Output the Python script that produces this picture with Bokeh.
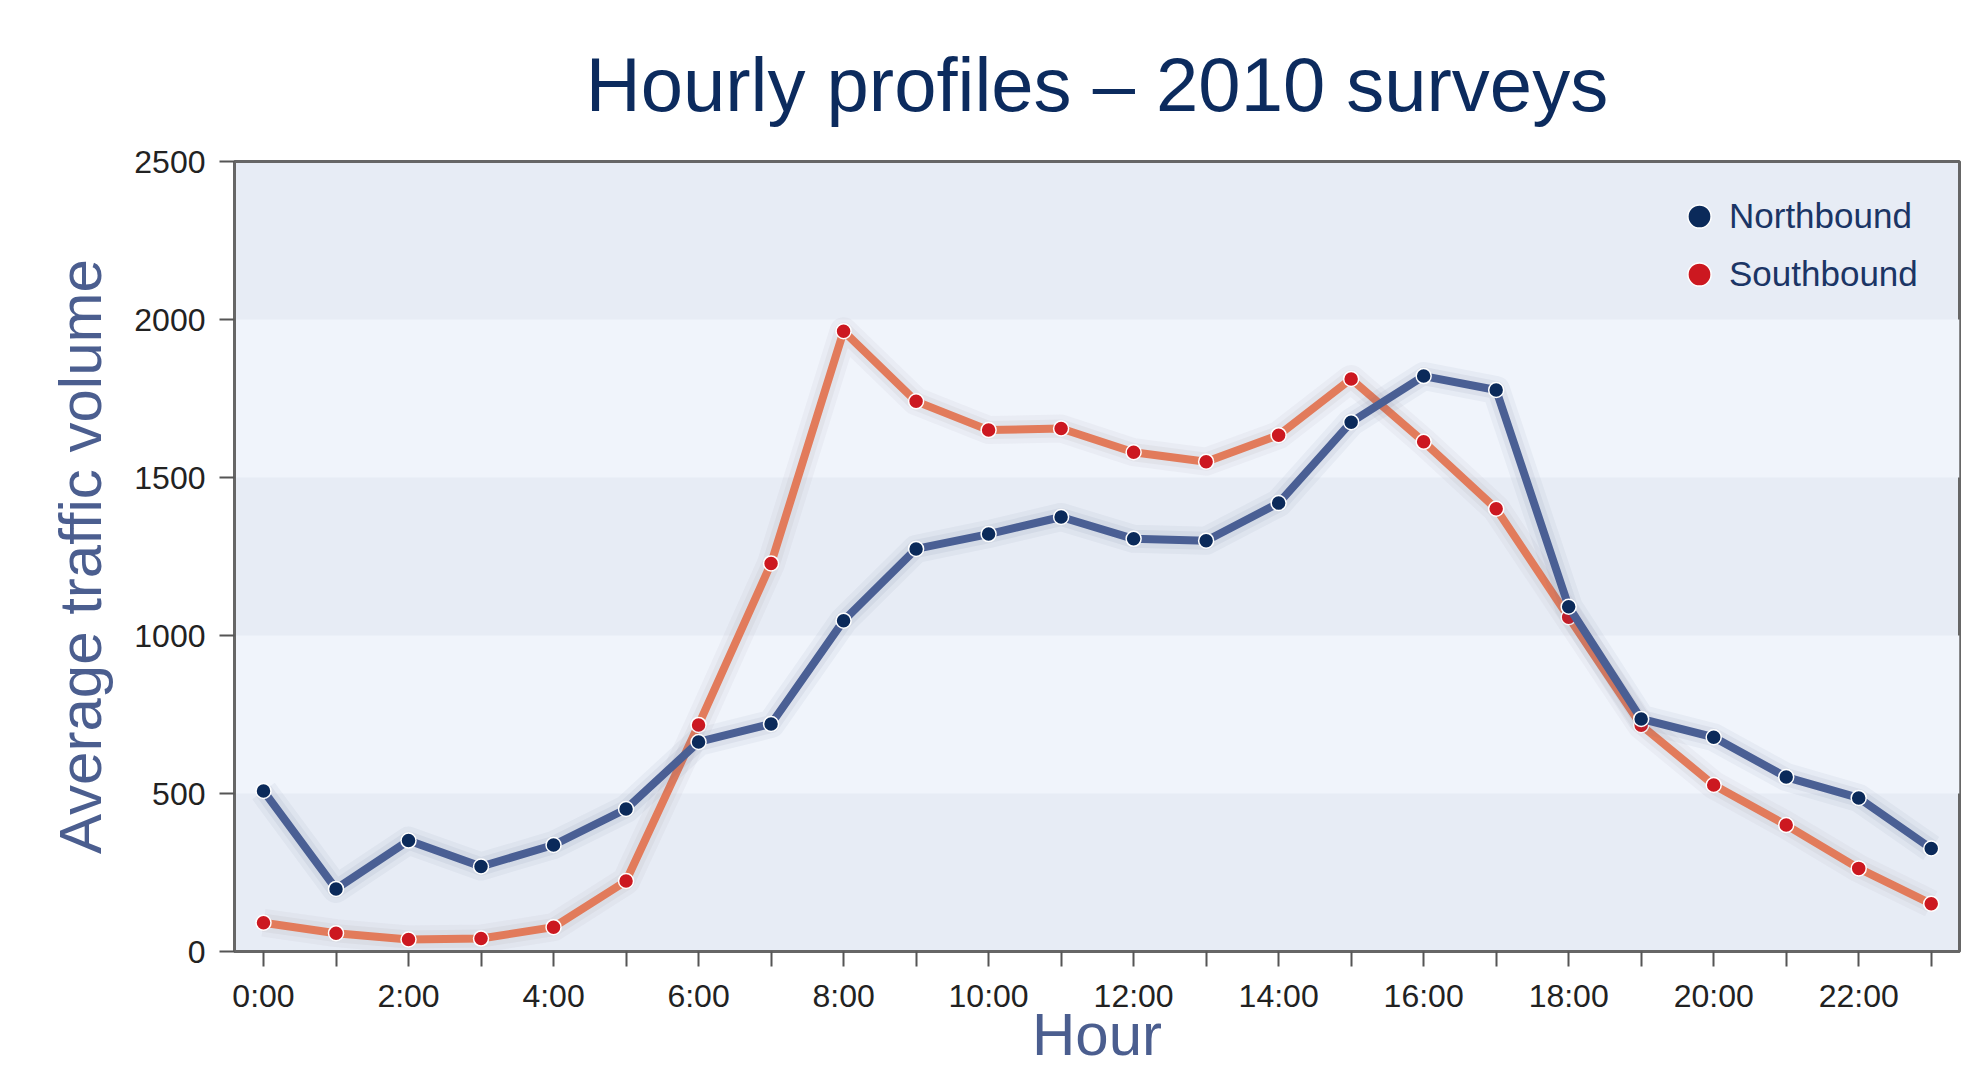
from bokeh.plotting import figure
from bokeh.models import FixedTicker, Legend, LegendItem, Range1d
from bokeh.embed import file_html
from bokeh.resources import INLINE

# ---- data ----
hours = list(range(24))
hour_labels = ["0:00", "", "2:00", "", "4:00", "", "6:00", "", "8:00", "", "10:00", "",
               "12:00", "", "14:00", "", "16:00", "", "18:00", "", "20:00", "", "22:00", ""]
northbound = [508, 198, 351, 269, 337, 451, 663, 720, 1047, 1274, 1321, 1375,
              1306, 1300, 1419, 1675, 1821, 1777, 1091, 736, 678, 552, 486, 326]
southbound = [91, 58, 38, 41, 77, 223, 717, 1228, 1963, 1741, 1650, 1655,
              1580, 1550, 1634, 1812, 1613, 1401, 1058, 716, 527, 400, 263, 151]
y_ticks = [0, 500, 1000, 1500, 2000, 2500]
series_names = ["Northbound", "Southbound"]
x_title = "Hour"
y_title = "Average traffic volume"

FONT = "Liberation Sans"
W, H = 1969, 1072
BL, BR, BT, BB = 234, 10, 161, 121

p = figure(width=W, height=H,
           x_range=Range1d(-0.4, 23.39), y_range=Range1d(0, 2500),
           output_backend="svg", toolbar_location=None,
           min_border_left=BL, min_border_right=BR,
           min_border_top=BT, min_border_bottom=BB,
           title="Hourly profiles \u2013 2010 surveys")

p.title.text_font = FONT
p.title.text_font_size = "76px"
p.title.text_font_style = "normal"
p.title.text_color = "#0c2b5e"
p.title.align = "center"
p.title.standoff = 70

p.background_fill_color = "#e7ecf5"
p.border_fill_color = "white"
p.outline_line_color = "#666666"
p.outline_line_width = 3

p.xgrid.visible = False
p.ygrid.ticker = FixedTicker(ticks=y_ticks)
p.ygrid.grid_line_color = None
p.ygrid.band_fill_color = "#f0f4fb"
p.ygrid.band_fill_alpha = 1.0

p.xaxis.ticker = FixedTicker(ticks=hours)
p.xaxis.major_label_overrides = {h: lab for h, lab in zip(hours, hour_labels)}
p.yaxis.ticker = FixedTicker(ticks=y_ticks)

for ax in (p.xaxis, p.yaxis):
    ax.axis_line_color = "#666666"
    ax.axis_line_width = 3
    ax.major_tick_line_color = "#555555"
    ax.major_tick_line_width = 2
    ax.major_tick_out = 15
    ax.major_tick_in = 0
    ax.minor_tick_line_color = None
    ax.major_label_text_font = FONT
    ax.major_label_text_font_size = "32px"
    ax.major_label_text_color = "#222222"
    ax.axis_label_text_font = FONT
    ax.axis_label_text_font_size = "60px"
    ax.axis_label_text_font_style = "normal"
    ax.axis_label_text_color = "#4b5e8f"

p.xaxis.axis_label = x_title
p.yaxis.axis_label = y_title
p.xaxis.major_label_standoff = 11
p.yaxis.major_label_standoff = 14
p.xaxis.axis_label_standoff = -16
p.yaxis.axis_label_standoff = 17

# ---- series ----
styles = [
    dict(line="#e27b5b", marker="#cc1820", shadow="#8a7a80"),   # Southbound
    dict(line="#4a5f94", marker="#0b2a5a", shadow="#5a6a90"),   # Northbound
]
values = [southbound, northbound]
names = [series_names[1], series_names[0]]

items = {}
for vals, st, name in zip(values, styles, names):
    p.line(hours, vals, line_width=28, line_color=st["shadow"], line_alpha=0.06, line_join="round")
    p.line(hours, vals, line_width=18, line_color=st["shadow"], line_alpha=0.08, line_join="round")
    p.line(hours, vals, line_width=8, line_color=st["line"], line_join="round")
    r = p.scatter(hours, vals, size=15, fill_color=st["marker"], line_color="white", line_width=1.5)
    items[name] = r

legend = Legend(items=[LegendItem(label=n, renderers=[items[n]]) for n in series_names],
                location="top_right")
legend.glyph_width = 58
legend.glyph_height = 58
legend.spacing = 0
legend.padding = 0
legend.margin = 26
legend.label_standoff = 1
legend.label_width = 204
legend.label_text_font = FONT
legend.label_text_font_size = "35px"
legend.label_text_color = "#1b3565"
legend.background_fill_alpha = 0
legend.border_line_color = None
p.add_layout(legend)

open("out.html", "w").write(file_html(p, INLINE))
